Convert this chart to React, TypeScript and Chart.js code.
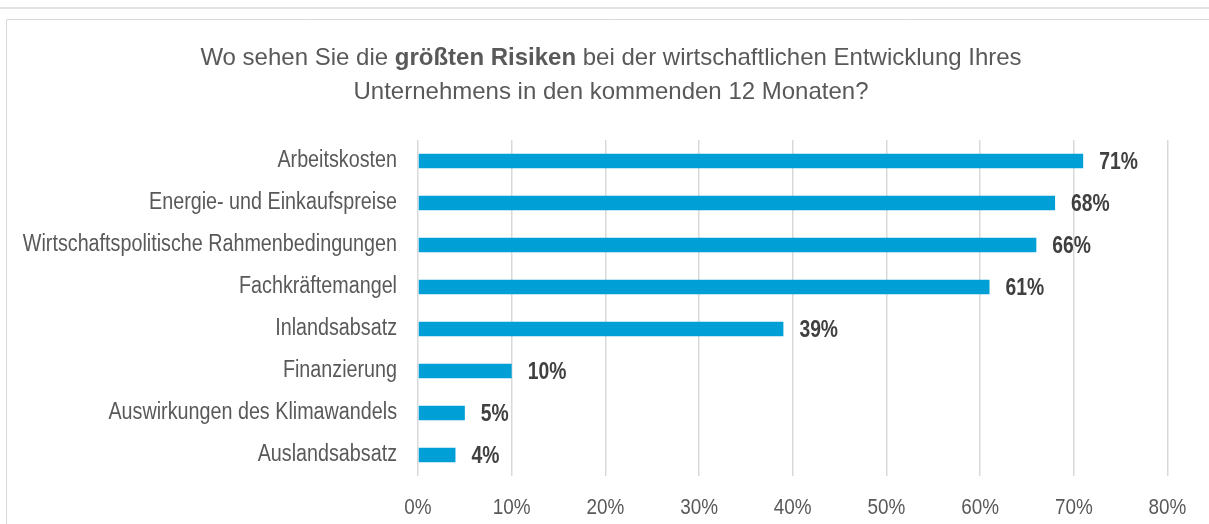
import React, { useEffect, useRef } from "react";
import { Chart, registerables } from "chart.js";

Chart.register(...registerables);

const categories = [
  "Arbeitskosten",
  "Energie- und Einkaufspreise",
  "Wirtschaftspolitische Rahmenbedingungen",
  "Fachkräftemangel",
  "Inlandsabsatz",
  "Finanzierung",
  "Auswirkungen des Klimawandels",
  "Auslandsabsatz",
];
const values = [71, 68, 66, 61, 39, 10, 5, 4];
const xTickLabels = ["0%", "10%", "20%", "30%", "40%", "50%", "60%", "70%", "80%"];
const titleLine1 = [
  { text: "Wo sehen Sie die ", bold: false },
  { text: "größten Risiken", bold: true },
  { text: " bei der wirtschaftlichen Entwicklung Ihres", bold: false },
];
const titleLine2 = "Unternehmens in den kommenden 12 Monaten?";

const FONT = '"Liberation Sans", Arial, sans-serif';
const W = 1209;
const H = 524;
const NARROW = 0.84;

const decoPlugin = {
  id: "deco",
  afterInit(chart: any) {
    const ctx = chart.ctx as any;
    const orig = ctx.fillText.bind(ctx);
    chart.$condense = true;
    ctx.fillText = (t: string, x: number, y: number, mw?: number) => {
      if (!chart.$condense) return mw === undefined ? orig(t, x, y) : orig(t, x, y, mw);
      const w = ctx.measureText(t).width * NARROW;
      return orig(t, x, y, mw === undefined ? w : Math.min(mw, w));
    };
  },
  beforeDraw(chart: any) {
    const ctx = chart.ctx as CanvasRenderingContext2D;
    chart.$condense = false;
    ctx.save();
    ctx.fillStyle = "#ffffff";
    ctx.fillRect(0, 0, W, H);
    ctx.fillStyle = "#e2e2e2";
    ctx.fillRect(0, 7, W, 2);
    ctx.strokeStyle = "#d9d9d9";
    ctx.lineWidth = 1;
    ctx.beginPath();
    ctx.moveTo(6.5, H + 2);
    ctx.lineTo(6.5, 19.5);
    ctx.lineTo(W + 2, 19.5);
    ctx.stroke();

    // title
    ctx.fillStyle = "#595959";
    ctx.textBaseline = "alphabetic";
    ctx.textAlign = "left";
    const cx = 611;
    let total = 0;
    const widths = titleLine1.map((seg) => {
      ctx.font = `${seg.bold ? "bold " : ""}24px ${FONT}`;
      const w = ctx.measureText(seg.text).width;
      total += w;
      return w;
    });
    let x = cx - total / 2;
    titleLine1.forEach((seg, i) => {
      ctx.font = `${seg.bold ? "bold " : ""}24px ${FONT}`;
      ctx.fillText(seg.text, x, 64.5);
      x += widths[i];
    });
    ctx.font = `24px ${FONT}`;
    ctx.textAlign = "center";
    ctx.fillText(titleLine2, cx, 98.5);
    ctx.restore();
    chart.$condense = true;
  },
  afterDatasetsDraw(chart: any) {
    const ctx = chart.ctx as CanvasRenderingContext2D;
    const meta = chart.getDatasetMeta(0);
    ctx.save();
    ctx.fillStyle = "#404040";
    ctx.font = `bold 23px ${FONT}`;
    ctx.textAlign = "left";
    ctx.textBaseline = "middle";
    meta.data.forEach((bar: any, i: number) => {
      ctx.fillText(values[i] + "%", bar.x + 16, bar.y + 1.5);
    });
    ctx.restore();
  },
};

export default function App() {
  const ref = useRef<HTMLCanvasElement | null>(null);
  useEffect(() => {
    if (!ref.current) return;
    const chart = new Chart(ref.current, {
      type: "bar",
      data: {
        labels: categories,
        datasets: [
          {
            data: values,
            backgroundColor: "#009fd6",
            borderWidth: 0,
            categoryPercentage: 1,
            barPercentage: 0.34,
          },
        ],
      },
      options: {
        indexAxis: "y",
        responsive: false,
        animation: false,
        devicePixelRatio: 1,
        layout: { padding: { top: 140, right: 41.5, left: 0, bottom: 0 } },
        plugins: {
          legend: { display: false },
          title: { display: false },
          tooltip: { enabled: false },
        },
        scales: {
          x: {
            min: 0,
            max: 80,
            ticks: {
              stepSize: 10,
              padding: 18,
              color: "#595959",
              font: { family: FONT, size: 22.5 },
              callback: (_v: any, i: number) => xTickLabels[i],
            },
            grid: { color: "#d9d9d9", lineWidth: 1.5, drawTicks: false },
            border: { display: false },
            afterFit: (s: any) => {
              s.height = 48;
            },
          },
          y: {
            ticks: {
              padding: 21,
              color: "#595959",
              font: { family: FONT, size: 23.5 },
            },
            grid: { display: false, drawTicks: false },
            border: { display: false },
            afterFit: (s: any) => {
              s.width = 418;
            },
          },
        },
      },
      plugins: [decoPlugin],
    });
    return () => chart.destroy();
  }, []);
  return (
    <div style={{ position: "fixed", left: 0, top: 0, width: W, height: H, background: "#fff" }}>
      <canvas ref={ref} width={W} height={H} style={{ width: W, height: H, display: "block" }} />
    </div>
  );
}
